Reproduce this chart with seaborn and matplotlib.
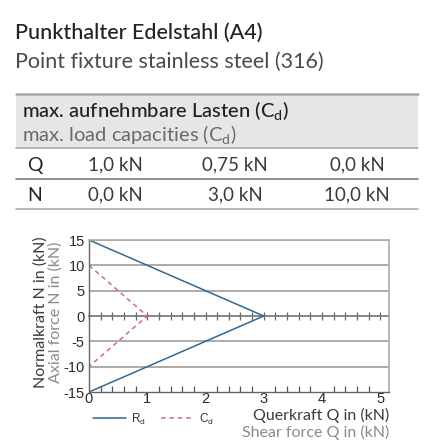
import numpy as np
import pandas as pd
import matplotlib
matplotlib.use("Agg")
import matplotlib.pyplot as plt
import seaborn as sns

# Interaction diagram values (Q in kN, N in kN)
rd_q = [0, 3, 0]
rd_n = [15, 0, -15]
cd_q = [0, 1, 0]
cd_n = [10, 0, -10]

# Table with max. load capacities
row_labels = ["Q", "N"]
q_values = ["1,0 kN", "0,75 kN", "0,0 kN"]
n_values = ["0,0 kN", "3,0 kN", "10,0 kN"]

y_ticks = [15, 10, 5, 0, -5, -10, -15]
x_ticks = [0, 1, 2, 3, 4, 5]

sns.set_theme(style="white")
plt.rcParams["font.family"] = ["Lato", "DejaVu Sans"]
plt.rcParams["mathtext.default"] = "regular"

fig = plt.figure(figsize=(4.31, 4.46), dpi=100)
W, H = 431, 446

def fx(px):
    return px / W

def fy(py):
    return 1 - py / H

dark = "#222222"

# titles
fig.text(fx(15), fy(33), "Punkthalter Edelstahl (A4)", fontsize=15.5, color=dark,
         ha="left", va="center", fontweight="medium")
fig.text(fx(15), fy(62), "Point fixture stainless steel (316)", fontsize=15.5,
         color="#4a4a4a", ha="left", va="center")

# table header band
band = plt.Rectangle((fx(16), fy(148)), fx(418) - fx(16), fy(94) - fy(148),
                     transform=fig.transFigure, facecolor="#e6e6e6", edgecolor="none")
fig.patches.append(band)
for py, col, lw in [(94, "#a8a8a8", 1.8), (148, "#a8a8a8", 1.2),
                    (179, "#7a7a7a", 1.2), (209, "#a8a8a8", 1.2)]:
    fig.add_artist(plt.Line2D([fx(16), fx(418)], [fy(py), fy(py)],
                              transform=fig.transFigure, color=col, lw=lw))

fig.text(fx(22), fy(111), "max. aufnehmbare Lasten (C$_{d}$)", fontsize=14.5,
         color=dark, ha="left", va="center", fontweight="medium")
fig.text(fx(22), fy(135), "max. load capacities (C$_{d}$)", fontsize=14.5,
         color="#6a6a6a", ha="left", va="center")

col_x = [115, 235, 357]
for row_y, label, vals in [(165, row_labels[0], q_values), (195, row_labels[1], n_values)]:
    fig.text(fx(35), fy(row_y), label, fontsize=14, color=dark, ha="center", va="center")
    for cx, v in zip(col_x, vals):
        fig.text(fx(cx), fy(row_y), v, fontsize=13.5, color="#3a3a3a", ha="center",
                 va="center")

# chart
ax = fig.add_axes([fx(89), fy(392), fx(389) - fx(89), fy(240) - fy(392)])
df = pd.DataFrame({
    "Q": rd_q + cd_q,
    "N": rd_n + cd_n,
    "series": ["R$_{d}$"] * len(rd_q) + ["C$_{d}$"] * len(cd_q),
})
sns.lineplot(data=df, x="Q", y="N", hue="series", style="series", sort=False,
             estimator=None, ax=ax, linewidth=1.1,
             palette={"R$_{d}$": "#2f6a96", "C$_{d}$": "#d46a78"},
             dashes={"R$_{d}$": "", "C$_{d}$": (3, 2.5)})

ax.set_xlim(0, 5.15)
ax.set_ylim(-15, 15)
ax.set_yticks(y_ticks)
ax.set_yticklabels([str(v) for v in y_ticks])
ax.set_xticks(x_ticks)
ax.set_xticks(np.arange(0, 5.01, 0.2), minor=True)
ax.set_xlabel("")
ax.set_ylabel("")
for lab in ax.get_xticklabels() + ax.get_yticklabels():
    lab.set_family(["Liberation Sans", "DejaVu Sans"])
ax.tick_params(axis="y", which="both", length=0, labelsize=10.5, labelcolor="#2a2a2a", pad=3)
ax.tick_params(axis="x", which="both", direction="in", length=4, width=0.9,
               color="#555555", labelsize=10.5, labelcolor="#2a2a2a", pad=0)
ax.tick_params(axis="x", which="minor", bottom=True)

for v in [15, 10, 5, -5, -10]:
    ax.axhline(v, color="#ababab", lw=1.4, zorder=0)

for side in ["top", "right"]:
    ax.spines[side].set_color("#ababab")
    ax.spines[side].set_linewidth(1.2)
for side in ["left", "bottom"]:
    ax.spines[side].set_visible(True)
    ax.spines[side].set_color("#666666")
    ax.spines[side].set_linewidth(1.0)

# axis with ticks on the N = 0 line
sec = ax.secondary_xaxis(0.5)
sec.set_xticks(np.arange(0, 5.01, 0.2))
sec.set_xticklabels([])
sec.tick_params(axis="x", direction="inout", length=6, width=0.9, color="#666666")
for s in sec.spines.values():
    s.set_color("#777777")

# axis titles
fig.text(fx(41), fy(312), "Normalkraft N in (kN)", rotation=90, fontsize=11.5,
         color="#3a3a3a", ha="center", va="center")
fig.text(fx(56), fy(312), "Axial force N in (kN)", rotation=90, fontsize=11.5,
         color="#8a8a8a", ha="center", va="center")
fig.text(fx(389), fy(415), "Querkraft Q in (kN)", fontsize=11.5, color="#3a3a3a",
         ha="right", va="center")
fig.text(fx(389), fy(432), "Shear force Q in (kN)", fontsize=11.5, color="#8a8a8a",
         ha="right", va="center")

sns.move_legend(ax, "center left", bbox_to_anchor=(fx(93), fy(419)),
                bbox_transform=fig.transFigure, ncol=2, frameon=False, title=None,
                fontsize=8.5, handlelength=2.8, columnspacing=1.3, handletextpad=0.4,
                borderpad=0, borderaxespad=0)
for t in ax.get_legend().get_texts():
    t.set_family(["Liberation Sans", "DejaVu Sans"])
    t.set_color("#333333")

fig.savefig("out.png", dpi=100)
